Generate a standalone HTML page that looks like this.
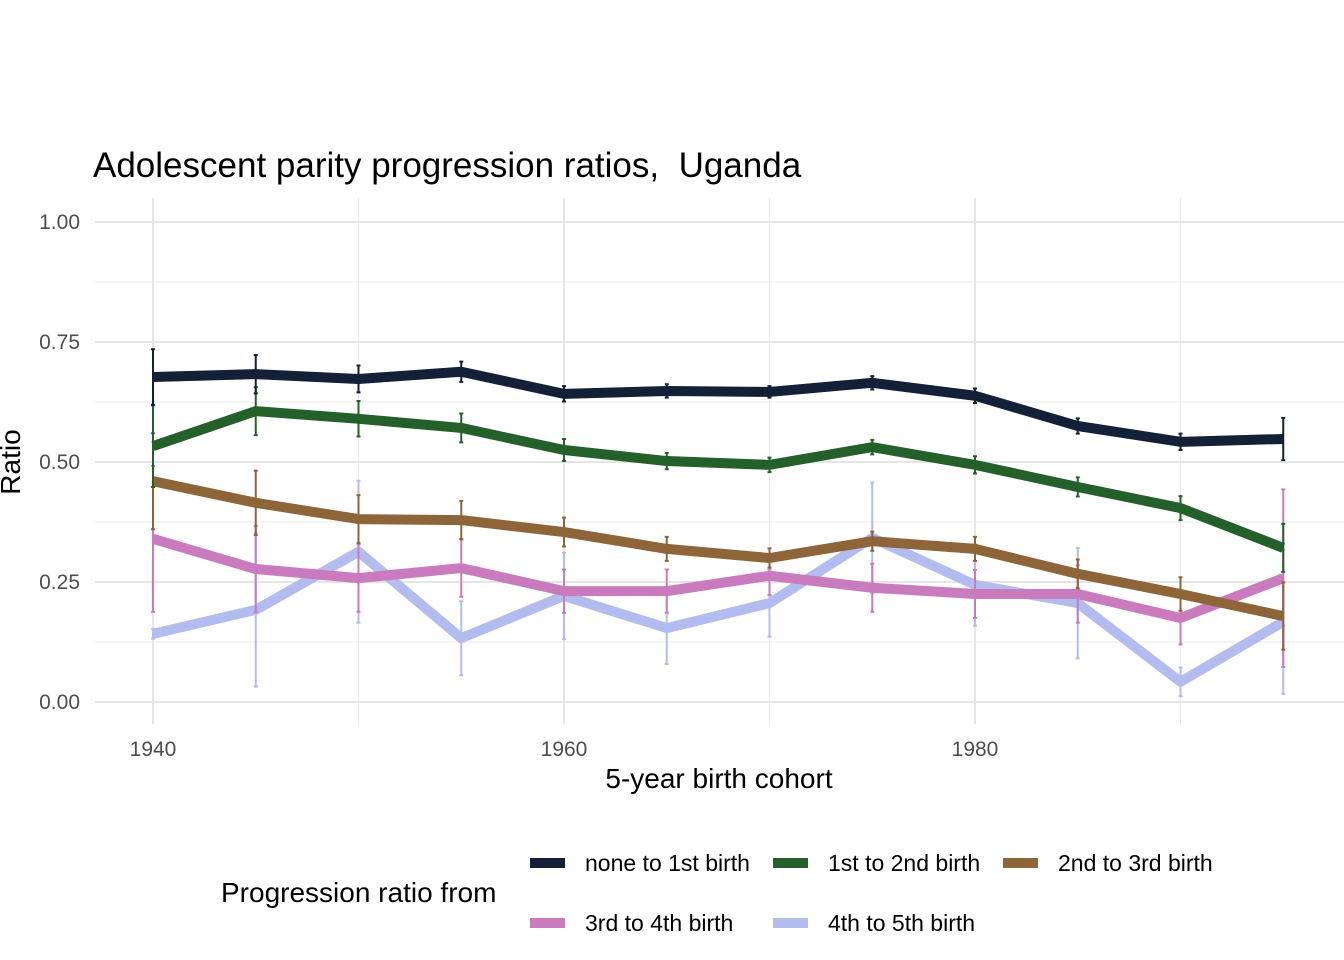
<!DOCTYPE html>
<html><head><meta charset="utf-8"><style>
body{margin:0;background:#fff;}
svg{display:block;font-family:"Liberation Sans",Arial,sans-serif;}
</style></head><body>
<svg id="chart" width="1344" height="960">
<text x="93" y="177" font-size="35" fill="#000">Adolescent parity progression ratios,&#160; Uganda</text>
<g id="grid"></g>
<g id="series"></g>
<g id="axes"></g>
<text x="719" y="788" font-size="28" text-anchor="middle">5-year birth cohort</text>
<text transform="translate(20,462) rotate(-90)" font-size="28" text-anchor="middle">Ratio</text>
<text x="221" y="902" font-size="28">Progression ratio from</text>
<g id="legend"></g>
</svg>
<script>
const cohorts=[1940,1945,1950,1955,1960,1965,1970,1975,1980,1985,1990,1995];
const seriesNames=["none to 1st birth","1st to 2nd birth","2nd to 3rd birth","3rd to 4th birth","4th to 5th birth"];
const seriesColors=["#141f38","#246029","#8d6538","#c97bbd","#b3bcee"];
const v1=[0.677,0.683,0.673,0.688,0.642,0.648,0.646,0.665,0.638,0.575,0.542,0.548];
const v2=[0.533,0.606,0.590,0.571,0.525,0.502,0.494,0.531,0.494,0.448,0.404,0.321];
const v3=[0.460,0.415,0.381,0.379,0.354,0.319,0.300,0.335,0.319,0.267,0.225,0.179];
const v4=[0.340,0.277,0.258,0.279,0.231,0.231,0.263,0.238,0.225,0.225,0.175,0.258];
const v5=[0.142,0.192,0.313,0.133,0.221,0.154,0.206,0.342,0.244,0.206,0.042,0.167];
const e1=[0.058,0.04,0.028,0.021,0.016,0.014,0.012,0.014,0.015,0.016,0.017,0.044];
const e2=[0.085,0.05,0.037,0.03,0.023,0.017,0.015,0.015,0.018,0.02,0.025,0.05];
const e3=[0.1,0.067,0.05,0.04,0.03,0.025,0.02,0.02,0.025,0.03,0.035,0.07];
const e4=[0.152,0.09,0.07,0.06,0.045,0.045,0.04,0.05,0.05,0.06,0.055,0.185];
const e5=[0.01,0.16,0.148,0.077,0.09,0.075,0.07,0.115,0.085,0.115,0.03,0.15];
const yTicks=[0,0.25,0.5,0.75,1];
const yTickLabels=["0.00","0.25","0.50","0.75","1.00"];
const xTicks=[1940,1960,1980];
const values=[v1,v2,v3,v4,v5];
const errs=[e1,e2,e3,e4,e5];
const NS="http://www.w3.org/2000/svg";
const X=yr=>153+(yr-1940)*20.55;
const Y=v=>702-v*480;
function mk(tag,attrs,parent){const e=document.createElementNS(NS,tag);for(const k in attrs)e.setAttribute(k,attrs[k]);parent.appendChild(e);return e;}
const grid=document.getElementById('grid'),axes=document.getElementById('axes'),ser=document.getElementById('series'),leg=document.getElementById('legend');
for(let v=0.125;v<1;v+=0.25){const l=mk('line',{x1:95,x2:1344,y1:Y(v),y2:Y(v),stroke:'#ebebeb','stroke-width':1},grid);

}
for(const yr of [1950,1970,1990]){const l=mk('line',{x1:X(yr),x2:X(yr),y1:198,y2:724,stroke:'#ebebeb','stroke-width':1},grid);

}
yTicks.forEach((v,i)=>{const l=mk('line',{x1:95,x2:1344,y1:Y(v),y2:Y(v),stroke:'#e5e5e5','stroke-width':2},grid);


const t=mk('text',{x:80,y:Y(v)+7,'font-size':21,fill:'#4d4d4d','text-anchor':'end'},axes);t.textContent=yTickLabels[i];

});
xTicks.forEach(yr=>{const l=mk('line',{x1:X(yr),x2:X(yr),y1:198,y2:724,stroke:'#e5e5e5','stroke-width':2},grid);


const t=mk('text',{x:X(yr),y:756,'font-size':21,fill:'#4d4d4d','text-anchor':'middle'},axes);t.textContent=yr;

});
for(let s=4;s>=0;s--){
 const g=mk('g',{},ser);
 
 
 const pts=cohorts.map((c,i)=>X(c)+','+Y(values[s][i])).join(' ');
 const pl=mk('polyline',{points:pts,fill:'none',stroke:seriesColors[s],'stroke-width':10,'stroke-linejoin':'round'},g);
 
 
 cohorts.forEach((c,i)=>{const x=X(c),lo=Y(values[s][i]-errs[s][i]),hi=Y(values[s][i]+errs[s][i]);
  const p=mk('path',{d:`M${x-2},${hi}H${x+2}M${x},${hi}V${lo}M${x-2},${lo}H${x+2}`,stroke:seriesColors[s],'stroke-width':2,fill:'none'},g);
  
  });
}
const legPos=[[530,863],[773,863],[1003,863],[530,923],[773,923]];
seriesNames.forEach((n,i)=>{const [x,y]=legPos[i];
 const g=mk('g',{},leg);
 
 
 mk('line',{x1:x,x2:x+35,y1:y,y2:y,stroke:seriesColors[i],'stroke-width':10},g);
 const t=mk('text',{x:x+55,y:y+8,'font-size':23},g);t.textContent=n;});
</script>
</body></html>
